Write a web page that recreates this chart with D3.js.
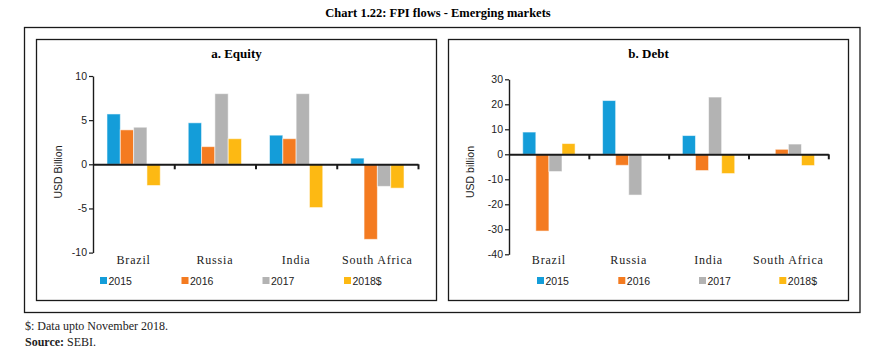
<!DOCTYPE html>
<html><head><meta charset="utf-8">
<script src="https://cdn.jsdelivr.net/npm/d3@7"></script>
<style>
body{margin:0;background:#fff;}
svg{display:block;}
.serif{font-family:"Liberation Serif","DejaVu Serif",serif;}
.sans{font-family:"Liberation Sans","DejaVu Sans",sans-serif;}
</style></head>
<body>
<svg id="c" width="880" height="357"></svg>
<script>
const categories = ["Brazil","Russia","India","South Africa"];
const seriesNames = ["2015","2016","2017","2018$"];
const colors = ["#149dd9","#f47b20","#b3b3b3","#fdb913"];
// Equity values (USD billion), per series in category order
const equity2015 = [5.7, 4.7, 3.3, 0.7];
const equity2016 = [3.9, 2.0, 2.9, -8.5];
const equity2017 = [4.2, 8.0, 8.0, -2.5];
const equity2018 = [-2.4, 2.9, -4.9, -2.7];
// Debt values (USD billion)
const debt2015 = [8.9, 21.5, 7.5, 0];
const debt2016 = [-30.7, -4.4, -6.5, 2.0];
const debt2017 = [-6.9, -16.3, 22.9, 4.1];
const debt2018 = [4.3, 0, -7.7, -4.5];
const equityTicks = [-10,-5,0,5,10];
const debtTicks = [-40,-30,-20,-10,0,10,20,30];

const svg = d3.select("#c");

// Title
svg.append("text").attr("class","serif").attr("x",438).attr("y",17)
  .attr("text-anchor","middle").attr("font-weight","bold").attr("font-size",12.5)
  .text("Chart 1.22: FPI flows - Emerging markets");

// Outer box
svg.append("rect").attr("x",24.5).attr("y",27.5).attr("width",835.5).attr("height",285)
  .attr("fill","none").attr("stroke","#1a1a1a").attr("stroke-width",1.3);

function panel(opts){
  const g = svg.append("g");
  g.append("rect").attr("x",opts.box[0]).attr("y",opts.box[1]).attr("width",opts.box[2]).attr("height",opts.box[3])
    .attr("fill","none").attr("stroke","#1a1a1a").attr("stroke-width",1.3);
  g.append("text").attr("class","serif").attr("x",opts.box[0]+opts.box[2]/2).attr("y",57.5)
    .attr("text-anchor","middle").attr("font-weight","bold").attr("font-size",13).text(opts.title);

  const y = d3.scaleLinear().domain(opts.domain).range(opts.yRange);
  const x0 = d3.scaleBand().domain(categories).range(opts.xRange).paddingInner(0).paddingOuter(0);
  const x1 = d3.scaleBand().domain(seriesNames).range([0,x0.bandwidth()]).paddingInner(0).paddingOuter(1.05);

  // bars
  const data = [];
  categories.forEach((c,ci)=>{
    seriesNames.forEach((s,si)=>{
      data.push({c, s, v: opts.values[si][ci], color: colors[si]});
    });
  });
  g.selectAll("rect.bar").data(data.filter(d=>d.v!==0)).join("rect").attr("class","bar")
    .attr("x",d=>x0(d.c)+x1(d.s))
    .attr("width",x1.bandwidth())
    .attr("y",d=>y(Math.max(0,d.v)))
    .attr("height",d=>Math.abs(y(d.v)-y(0)))
    .attr("fill",d=>d.color)
    .attr("stroke","rgba(255,255,255,0.55)").attr("stroke-width",1);

  // y axis
  const yAxis = g.append("g").attr("transform",`translate(${opts.xRange[0]},0)`)
    .call(d3.axisLeft(y).tickValues(opts.ticks).tickSize(4).tickSizeOuter(0).tickFormat(d=>String(d)));
  yAxis.select(".domain").attr("stroke","#1a1a1a").attr("stroke-width",1.4);
  yAxis.selectAll(".tick line").attr("stroke","#1a1a1a").attr("stroke-width",1.2);
  yAxis.selectAll("text").attr("class","sans").attr("font-size",10.5).attr("fill","#222").attr("dx",1);

  // x axis (zero line) with ticks at band boundaries
  const xi = d3.scaleLinear().domain([0,categories.length]).range(opts.xRange);
  const xAxis = g.append("g").attr("transform",`translate(0,${y(0)})`)
    .call(d3.axisBottom(xi).tickValues([1,2,3,4]).tickSize(5).tickSizeOuter(0).tickFormat(""));
  xAxis.select(".domain").attr("stroke","#1a1a1a").attr("stroke-width",2);
  xAxis.selectAll(".tick line").attr("stroke","#1a1a1a").attr("stroke-width",2);

  // category labels
  g.selectAll("text.cat").data(categories).join("text").attr("class","serif cat")
    .attr("x",d=>x0(d)+x0.bandwidth()/2).attr("y",263.5)
    .attr("text-anchor","middle").attr("font-size",12).attr("letter-spacing",0.8).attr("fill","#222").text(d=>d);

  // y label
  g.append("text").attr("class","sans")
    .attr("transform",`translate(${opts.labelX},${opts.labelY}) rotate(-90)`)
    .attr("text-anchor","middle").attr("font-size",10.5).attr("fill","#222").text(opts.yLabel);

  // legend
  const lg = g.selectAll("g.leg").data(seriesNames).join("g").attr("class","leg")
    .attr("transform",(d,i)=>`translate(${opts.legendX[i]},277)`);
  lg.append("rect").attr("width",7).attr("height",7).attr("fill",(d,i)=>colors[i]);
  lg.append("text").attr("class","sans").attr("x",8.5).attr("y",7.5).attr("font-size",10.5).attr("fill","#222").text(d=>d);
}

panel({
  box:[36.5,39.5,400,261], title:"a. Equity",
  domain:[-10,10], yRange:[252.6,76], xRange:[93,418], ticks:equityTicks,
  values:[equity2015,equity2016,equity2017,equity2018],
  yLabel:"USD Billion", labelX:62, labelY:172,
  legendX:[100,181.5,262.5,344]
});
panel({
  box:[448.5,39.5,400,261], title:"b. Debt",
  domain:[-40,30], yRange:[254.3,79.3], xRange:[509,828.3], ticks:debtTicks,
  values:[debt2015,debt2016,debt2017,debt2018],
  yLabel:"USD billion", labelX:474, labelY:172,
  legendX:[537,618.3,699,779.3]
});

// Footnotes
svg.append("text").attr("class","serif").attr("x",25).attr("y",330).attr("font-size",12).attr("fill","#222")
  .text("$: Data upto November 2018.");
const src = svg.append("text").attr("class","serif").attr("x",25).attr("y",345.5).attr("font-size",12).attr("fill","#222");
src.append("tspan").attr("font-weight","bold").text("Source:");
src.append("tspan").text(" SEBI.");
</script>
</body></html>
